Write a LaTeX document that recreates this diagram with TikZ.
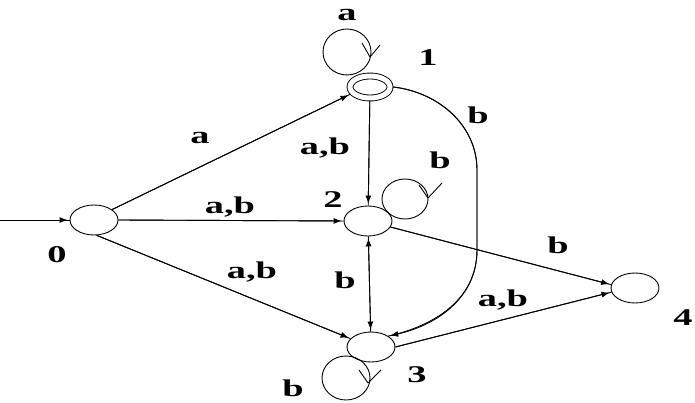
\documentclass[tikz,border=0pt]{standalone}
\usepackage{fontspec}
\setmainfont{Liberation Serif}
\usetikzlibrary{shapes.geometric,arrows.meta}
\newcommand{\hwide}[1]{\scalebox{1.6}[1]{#1}}
\begin{document}
\begin{tikzpicture}[x=1pt,y=-1pt,
  st/.style={draw, ellipse, line width=0.9pt, minimum width=48pt, minimum height=30pt, inner sep=0pt},
  ln/.style={line width=0.9pt},
  arr/.style={ln, postaction={draw, -{Latex[length=8pt,width=6pt,sep=2pt]}}},
  darr/.style={ln, postaction={draw, {Latex[length=8pt,width=6pt,sep=2pt]}-{Latex[length=8pt,width=6pt,sep=2pt]}}},
  lb/.style={inner sep=0pt, font=\fontsize{24}{24}\selectfont\bfseries},
]
\useasboundingbox (0,0) rectangle (695,403);
% states
\node[st] (n0) at (94,220) {};
\node[st, double, double distance=5pt, minimum width=40pt, minimum height=22pt, outer sep=3pt] (n1) at (370,87) {};
\node[st] (n2) at (368,221) {};
\node[st] (n3) at (371,347) {};
\node[st] (n4) at (635,288) {};
% loops
\coordinate (l1) at (347,52);
\coordinate (l2) at (405,199);
\coordinate (l3) at (346,378);
\draw[ln] (l1) ellipse [x radius=24, y radius=23];
\draw[ln] (l2) ellipse [x radius=23, y radius=20];
\draw[ln] (l3) ellipse [x radius=24, y radius=22];
\coordinate (v1) at (370,57);
\coordinate (v2) at (428,198);
\coordinate (v3) at (368,383);
\draw[ln] (v1) -- ++(-8,-14) (v1) -- ++(10,-12);
\draw[ln] (v2) -- ++(-9,-13) (v2) -- ++(14,-15);
\draw[ln] (v3) -- ++(-9,-13) (v3) -- ++(13,-13);
% edges
\coordinate (s0) at (0,220);
\draw[arr] (s0) -- (n0.west);
\draw[arr] (n0.30) -- (n1.200);
\draw[arr] (n0.east) -- (n2.west);
\draw[arr] (n0.-80) -- (n3);
\draw[arr] (n1) -- (n2);
\draw[darr] (n2) -- (n3);
\draw[arr] (n2.-15) -- (n4.172);
\draw[arr] (n3.east) -- (n4.190);
\coordinate (c1) at (477,170);
\coordinate (c2) at (477,250);
\draw[arr] (n1.east) .. controls +(45,5) and +(0,-45) .. (c1) -- (c2) .. controls +(0,50) and +(45,-10) .. (n3.north east);
% labels
\node[lb] (ta) at (347,15) {\hwide{a}};
\node[lb] (t1) at (428,58) {\hwide{1}};
\node[lb] (e01) at (200,138) {\hwide{a}};
\node[lb] (e12) at (325,148) {\hwide{a,b}};
\node[lb] (e13) at (478,115) {\hwide{b}};
\node[lb] (e22) at (440,160) {\hwide{b}};
\node[lb] (t2) at (333,200) {\hwide{2}};
\node[lb] (e02) at (230,207) {\hwide{a,b}};
\node[lb] (t0) at (57,255) {\hwide{0}};
\node[lb] (e24) at (558,245) {\hwide{b}};
\node[lb] (e23) at (345,280) {\hwide{b}};
\node[lb] (e03) at (252,272) {\hwide{a,b}};
\node[lb] (e34) at (503,300) {\hwide{a,b}};
\node[lb] (t4) at (683,318) {\hwide{4}};
\node[lb] (t3) at (417,375) {\hwide{3}};
\node[lb] (e33) at (293,388) {\hwide{b}};
\end{tikzpicture}
\end{document}
